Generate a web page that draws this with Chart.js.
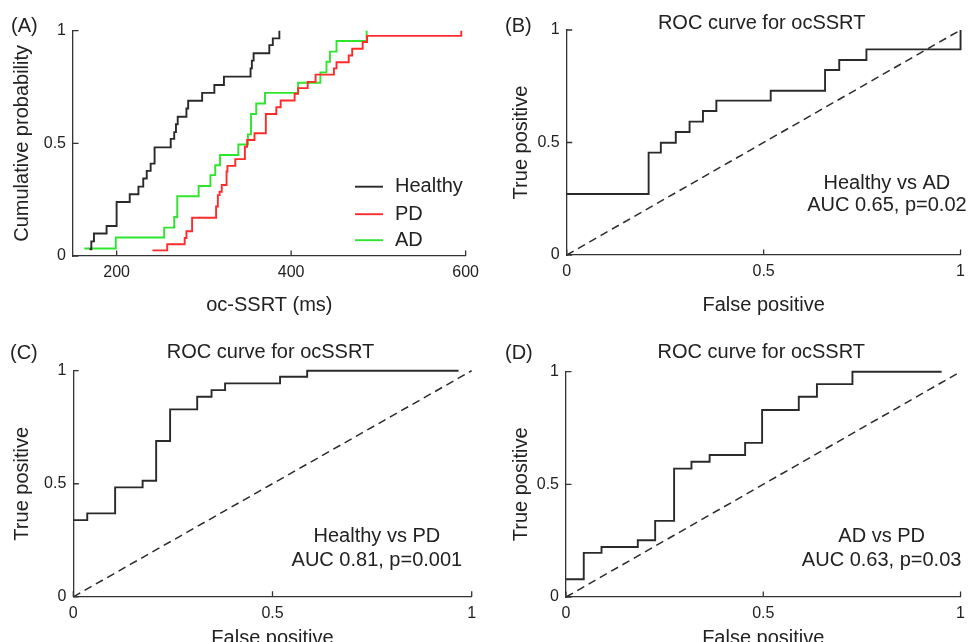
<!DOCTYPE html>
<html>
<head>
<meta charset="utf-8">
<script src="https://cdn.jsdelivr.net/npm/chart.js@4.4.1/dist/chart.umd.min.js"></script>
<style>
html, body { margin: 0; padding: 0; background: #fff; overflow: hidden; width: 972px; height: 642px; }
canvas { position: absolute; }
</style>
</head>
<body>
<canvas id="panelA" width="486" height="321" style="left:0;top:0;width:486px;height:321px"></canvas>
<canvas id="panelB" width="486" height="321" style="left:486px;top:0;width:486px;height:321px"></canvas>
<canvas id="panelC" width="486" height="335" style="left:0;top:321px;width:486px;height:335px"></canvas>
<canvas id="panelD" width="486" height="335" style="left:486px;top:321px;width:486px;height:335px"></canvas>
<script>
const FONT = "'Liberation Sans', Arial, Helvetica, sans-serif";
const INK = "#222";

// (A) cumulative distributions of oc-SSRT (ms)
const healthyX = [169, 171, 174, 188.5, 200, 215, 225, 230.5, 234.5, 239, 243.5, 243.5, 262, 266, 268, 270, 280, 282, 298, 312, 323, 353.5, 355, 357, 375, 379, 386.5];
const healthyY = [0.03, 0.065, 0.10, 0.133, 0.24, 0.274, 0.308, 0.344, 0.378, 0.41, 0.447, 0.482, 0.52, 0.55, 0.585, 0.618, 0.655, 0.689, 0.724, 0.759, 0.796, 0.833, 0.867, 0.90, 0.936, 0.966, 1.0];
const pdX = [241, 258, 278, 280, 286.5, 314, 316, 318, 320.5, 326, 327, 336, 347, 349.5, 358, 371, 383, 388, 404, 408, 419, 428, 449, 452, 466, 470, 482, 487, 595];
const pdY = [0.025, 0.052, 0.08, 0.11, 0.17, 0.22, 0.27, 0.285, 0.315, 0.375, 0.40, 0.43, 0.485, 0.515, 0.545, 0.63, 0.66, 0.69, 0.72, 0.745, 0.773, 0.805, 0.833, 0.86, 0.89, 0.92, 0.95, 0.977, 1.0];
const adX = [163, 199, 254.5, 266, 269.5, 294, 307.5, 313, 318.5, 339.5, 350.5, 354, 360, 370, 408, 433.5, 440.5, 444.5, 452, 486.5];
const adY = [0.033, 0.082, 0.126, 0.173, 0.265, 0.311, 0.359, 0.403, 0.448, 0.495, 0.54, 0.63, 0.677, 0.724, 0.769, 0.815, 0.862, 0.907, 0.954, 1.0];

// (B) Healthy vs AD, (C) Healthy vs PD, (D) AD vs PD
const rocBX = [0, 0.208, 0.239, 0.277, 0.312, 0.346, 0.380, 0.518, 0.656, 0.692, 0.761, 1.0];
const rocBY = [0.271, 0.455, 0.499, 0.547, 0.593, 0.64, 0.686, 0.73, 0.822, 0.867, 0.914, 1.0];
const rocCX = [0, 0.035, 0.105, 0.174, 0.208, 0.243, 0.311, 0.347, 0.381, 0.519, 0.587, 0.967];
const rocCY = [0.339, 0.369, 0.484, 0.513, 0.689, 0.829, 0.885, 0.914, 0.944, 0.973, 1.0, 1.0];
const rocDX = [0, 0.045, 0.09, 0.182, 0.226, 0.274, 0.318, 0.364, 0.454, 0.497, 0.590, 0.636, 0.726, 0.952];
const rocDY = [0.079, 0.196, 0.222, 0.252, 0.338, 0.570, 0.60, 0.63, 0.684, 0.830, 0.889, 0.945, 1.0, 1.0];
const chanceX = [0, 1];
const chanceY = [0, 1];

const cdfTicks = [200, 400, 600];
const unitTicks = [0, 0.5, 1];

function pts(xs, ys) {
    return xs.map((x, i) => ({ x: x, y: ys[i] }));
}

function series(label, xs, ys, color, dash) {
    return {
        label: label,
        data: pts(xs, ys),
        borderColor: color,
        borderWidth: dash ? 1.5 : 1.9,
        borderDash: dash || [],
        stepped: !dash,
        pointRadius: 0,
        fill: false,
        clip: false,
    };
}

// matlab style ticks pointing into the plot
const inwardTicks = {
    id: "inwardTicks",
    afterDraw(chart) {
        const { ctx, chartArea: a, scales } = chart;
        ctx.save();
        ctx.strokeStyle = "#333";
        ctx.lineWidth = 1.3;
        ctx.beginPath();
        scales.x.ticks.forEach((t) => {
            const p = scales.x.getPixelForValue(t.value);
            ctx.moveTo(p, a.bottom);
            ctx.lineTo(p, a.bottom - 5.5);
        });
        scales.y.ticks.forEach((t) => {
            const p = scales.y.getPixelForValue(t.value);
            ctx.moveTo(a.left, p);
            ctx.lineTo(a.left + 5.5, p);
        });
        ctx.stroke();
        ctx.restore();
    },
};

const panelText = {
    id: "panelText",
    afterDraw(chart, args, o) {
        const { ctx, chartArea: a, scales } = chart;
        ctx.save();
        ctx.fillStyle = INK;
        ctx.font = "20px " + FONT;
        ctx.textBaseline = "middle";
        ctx.textAlign = "left";
        ctx.fillText(o.letter, o.letterX, o.letterY);
        ctx.textAlign = "center";
        if (o.title) {
            ctx.fillText(o.title, (a.left + a.right) / 2 - 2, o.titleY);
        }
        (o.notes || []).forEach((n) => {
            ctx.fillText(n.text, scales.x.getPixelForValue(n.x), scales.y.getPixelForValue(n.y));
        });
        ctx.restore();
    },
};

const insideLegend = {
    id: "insideLegend",
    afterDraw(chart, args, o) {
        if (!o.rows) return;
        const { ctx, chartArea: a } = chart;
        ctx.save();
        ctx.font = "20px " + FONT;
        ctx.textBaseline = "middle";
        ctx.textAlign = "left";
        chart.data.datasets.forEach((ds, i) => {
            const y = a.top + o.rows[i];
            ctx.strokeStyle = ds.borderColor;
            ctx.lineWidth = ds.borderWidth;
            ctx.beginPath();
            ctx.moveTo(a.left + o.lineFrom, y);
            ctx.lineTo(a.left + o.lineTo, y);
            ctx.stroke();
            ctx.fillStyle = INK;
            ctx.fillText(ds.label, a.left + o.textX, y);
        });
        ctx.restore();
    },
};

function axis(min, max, ticks, title, titlePad, fit) {
    return {
        type: "linear",
        min: min,
        max: max,
        afterBuildTicks: (s) => {
            s.ticks = ticks.map((v) => ({ value: v }));
        },
        afterFit: fit,
        grid: { display: true, drawOnChartArea: false, drawTicks: false },
        border: { display: true, color: "#333", width: 1.3 },
        ticks: {
            padding: 7,
            color: INK,
            autoSkip: false,
            maxRotation: 0,
            font: { family: FONT, size: 16 },
            callback: (v) => String(v),
        },
        title: {
            display: true,
            text: title,
            color: INK,
            font: { family: FONT, size: 20, lineHeight: 1.2 },
            padding: titlePad,
        },
    };
}

function makePanel(id, area, cfg) {
    const canvas = document.getElementById(id);
    const W = canvas.width;
    const H = canvas.height;
    return new Chart(canvas, {
        type: "line",
        data: { datasets: cfg.datasets },
        options: {
            responsive: false,
            animation: false,
            layout: { padding: { left: 0, right: W - area.r, top: area.t, bottom: 0 } },
            scales: {
                x: axis(cfg.xMin, cfg.xMax, cfg.xTicks, cfg.xTitle, { top: 0, bottom: cfg.xTitlePad },
                    (s) => { s.height = H - area.b; }),
                y: axis(0, 1, unitTicks, cfg.yTitle, { top: cfg.yTitlePad, bottom: 0 },
                    (s) => { s.width = area.l; }),
            },
            plugins: {
                legend: { display: false },
                tooltip: { enabled: false },
                panelText: cfg.text,
                insideLegend: cfg.legend || {},
            },
        },
        plugins: [inwardTicks, panelText, insideLegend],
    });
}

function rocSets(xs, ys) {
    return [
        series("ROC", xs, ys, "#2a2a2a"),
        series("chance", chanceX, chanceY, "#2a2a2a", [8, 5]),
    ];
}

makePanel("panelA", { l: 73, r: 471, t: 30.7, b: 256 }, {
    datasets: [
        series("Healthy", healthyX, healthyY, "#2a2a2a"),
        series("PD", pdX, pdY, "#ff2b2b"),
        series("AD", adX, adY, "#2ee52e"),
    ],
    xMin: 150, xMax: 600, xTicks: cdfTicks,
    xTitle: "oc-SSRT (ms)", xTitlePad: 3.5, yTitle: "Cumulative probability", yTitlePad: 10,
    text: { letter: "(A)", letterX: 11, letterY: 26 },
    legend: { rows: [156, 183.5, 209.5], lineFrom: 282, lineTo: 310, textX: 322 },
});

makePanel("panelB", { l: 80.7, r: 478.5, t: 30, b: 255 }, {
    datasets: rocSets(rocBX, rocBY),
    xMin: 0, xMax: 1, xTicks: unitTicks,
    xTitle: "False positive", xTitlePad: 3.5, yTitle: "True positive", yTitlePad: 23,
    text: {
        letter: "(B)", letterX: 19, letterY: 26, title: "ROC curve for ocSSRT", titleY: 23,
        notes: [{ text: "Healthy vs AD", x: 0.813, y: 0.32 }, { text: "AUC 0.65, p=0.02", x: 0.813, y: 0.222 }],
    },
});

makePanel("panelC", { l: 73.3, r: 471.7, t: 49.7, b: 275.8 }, {
    datasets: rocSets(rocCX, rocCY),
    xMin: 0, xMax: 1, xTicks: unitTicks,
    xTitle: "False positive", xTitlePad: 5.5, yTitle: "True positive", yTitlePad: 10,
    text: {
        letter: "(C)", letterX: 10, letterY: 32, title: "ROC curve for ocSSRT", titleY: 31,
        notes: [{ text: "Healthy vs PD", x: 0.762, y: 0.266 }, { text: "AUC 0.81, p=0.001", x: 0.762, y: 0.162 }],
    },
});

makePanel("panelD", { l: 80, r: 478, t: 50.7, b: 276 }, {
    datasets: rocSets(rocDX, rocDY),
    xMin: 0, xMax: 1, xTicks: unitTicks,
    xTitle: "False positive", xTitlePad: 5.5, yTitle: "True positive", yTitlePad: 23,
    text: {
        letter: "(D)", letterX: 19, letterY: 32, title: "ROC curve for ocSSRT", titleY: 31,
        notes: [{ text: "AD vs PD", x: 0.80, y: 0.268 }, { text: "AUC 0.63, p=0.03", x: 0.80, y: 0.164 }],
    },
});
</script>
</body>
</html>
